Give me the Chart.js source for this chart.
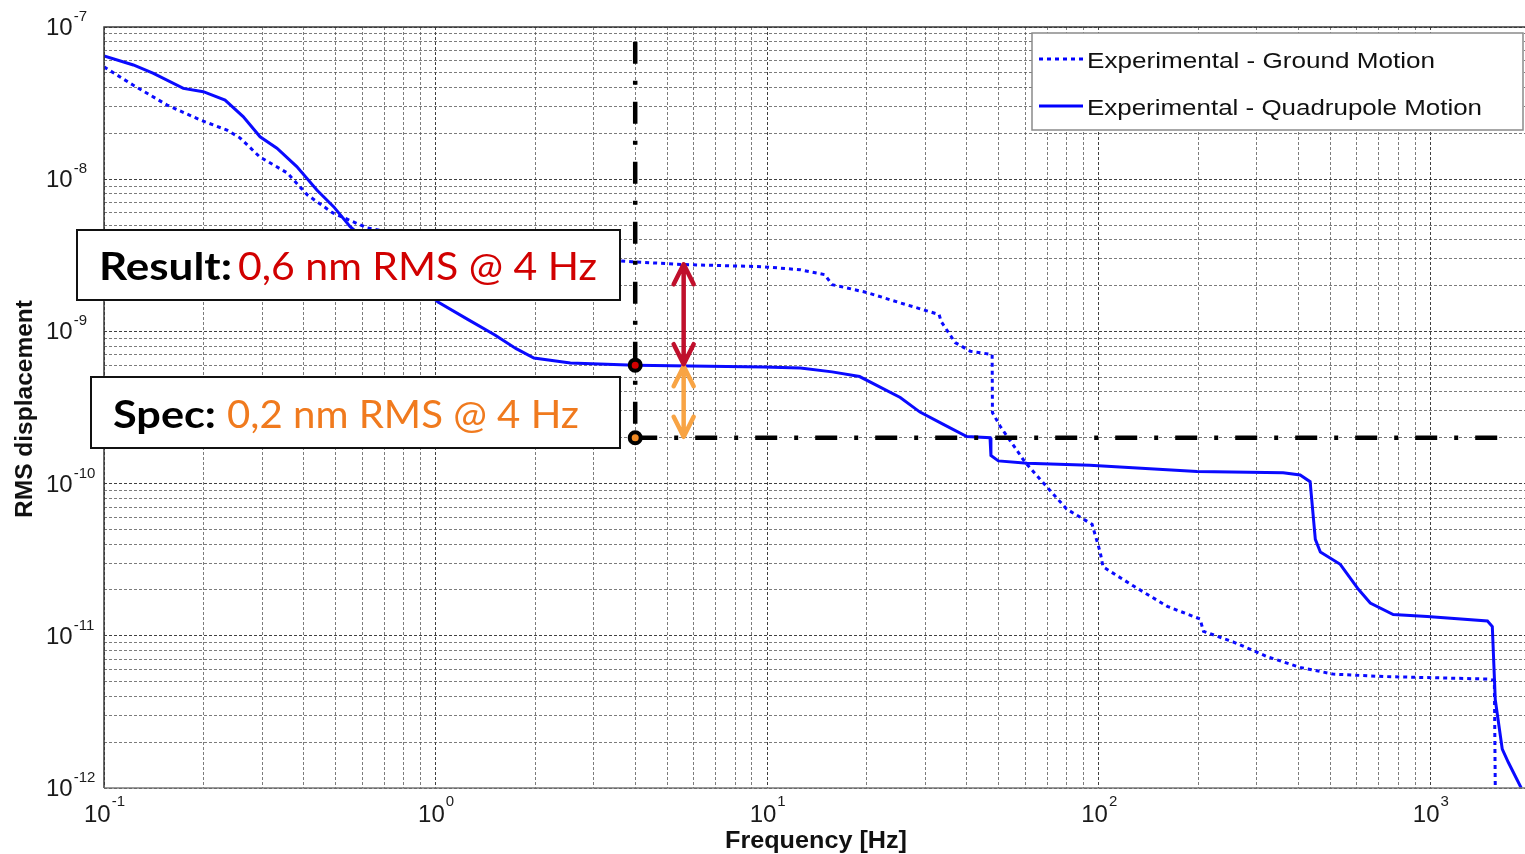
<!DOCTYPE html>
<html><head><meta charset="utf-8">
<script src="https://cdn.jsdelivr.net/npm/chart.js@4.4.1/dist/chart.umd.min.js"></script>
<style>html,body{margin:0;padding:0;background:#fff;overflow:hidden;}canvas{display:block;}</style>
</head><body><canvas id="c" width="1525" height="854" style="width:1525px;height:854px"></canvas>
<script>
// ---- data ----
const groundFreq = [0.1, 0.122, 0.155, 0.195, 0.235, 0.257, 0.295, 0.357, 0.41, 0.49, 0.62, 1.0, 2.0, 3.9, 5.58, 9.73, 12.6, 14.9, 15.7, 20, 24.7, 29.8, 33, 33.5, 36.9, 41, 47.7, 47.8, 50.5, 60, 80, 95.5, 101, 103, 127, 161, 202, 207, 255, 322, 405, 510, 721, 1487, 1560, 1570];
const groundRms = [5.47e-8, 4.17e-8, 3.07e-8, 2.45e-8, 2.1e-8, 1.87e-8, 1.4e-8, 1.1e-8, 7.9e-9, 6.0e-9, 4.8e-9, 3.9e-9, 3.2e-9, 2.87e-9, 2.75e-9, 2.66e-9, 2.54e-9, 2.36e-9, 2.03e-9, 1.8e-9, 1.56e-9, 1.38e-9, 1.29e-9, 1.16e-9, 8.45e-10, 7.4e-10, 7.05e-10, 2.93e-10, 2.37e-10, 1.38e-10, 6.8e-11, 5.4e-11, 3.55e-11, 2.84e-11, 2.13e-11, 1.56e-11, 1.29e-11, 1.07e-11, 9.1e-12, 7.3e-12, 6.2e-12, 5.6e-12, 5.4e-12, 5.2e-12, 5.1e-12, 1e-12];
const quadFreq = [0.1, 0.1226, 0.141, 0.1735, 0.1993, 0.2318, 0.2628, 0.2956, 0.3323, 0.3814, 0.4385, 0.4925, 0.5526, 1.017, 1.25, 1.51, 1.75, 1.98, 2.55, 4, 9.73, 12.6, 15.7, 19, 25.2, 28.9, 34, 40, 47, 47.3, 49.8, 60.8, 94, 198, 360, 405, 434, 450, 466, 535, 607, 659, 773, 979, 1487, 1538, 1570, 1648, 1720, 1880];
const quadRms = [6.45e-8, 5.63e-8, 4.96e-8, 3.95e-8, 3.76e-8, 3.31e-8, 2.58e-8, 1.9e-8, 1.6e-8, 1.21e-8, 8.5e-9, 6.6e-9, 4.87e-9, 1.56e-9, 1.2e-9, 9.46e-10, 7.7e-10, 6.68e-10, 6.2e-10, 6e-10, 5.83e-10, 5.75e-10, 5.42e-10, 5.05e-10, 3.68e-10, 2.95e-10, 2.45e-10, 2.04e-10, 2.0e-10, 1.53e-10, 1.41e-10, 1.36e-10, 1.32e-10, 1.2e-10, 1.18e-10, 1.14e-10, 1.03e-10, 4.3e-11, 3.55e-11, 2.95e-11, 2.02e-11, 1.64e-11, 1.38e-11, 1.34e-11, 1.25e-11, 1.15e-11, 3.8e-12, 1.8e-12, 1.47e-12, 1e-12];
const seriesNames = ['Experimental - Ground Motion', 'Experimental - Quadrupole Motion'];
const xTickExponents = [-1, 0, 1, 2, 3];
const yTickExponents = [-12, -11, -10, -9, -8, -7];
const xTitle = 'Frequency [Hz]';
const yTitle = 'RMS displacement';
const specFreq = 4;
const resultValue = 6e-10;
const specValue = 2e-10;
const vLineRms = [8e-8, 2e-10];
const hLineFreq = [4, 1600];
const arrowFreq = 5.6;
const redArrow = [2.8e-9, 6e-10];
const orangeArrow = [6e-10, 2e-10];
const resultLabel = ['Result:', '0,6 nm RMS @ 4 Hz'];
const specLabel = ['Spec:', '0,2 nm RMS @ 4 Hz'];
const xMin = 0.1, xMax = 1930, yMin = 1e-12, yMax = 1e-7;

// ---- helpers ----
function gridValues(min, max) {
  const out = [];
  for (let e = Math.floor(Math.log10(min)); e <= Math.ceil(Math.log10(max)); e++) {
    for (let m = 1; m <= 9; m++) {
      const v = m * Math.pow(10, e);
      if (v >= min * 0.9999 && v <= max * 1.0001) out.push({value: v, major: m === 1});
    }
  }
  return out;
}
const pts = (xs, ys) => xs.map((x, i) => ({x, y: ys[i]}));
const gridColor = c => (c.tick && c.tick.major) ? 'rgba(30,30,30,0.85)' : 'rgba(80,80,80,0.75)';
const SANS = '"Liberation Sans", Arial, sans-serif';
const HUM = 'Lato, "Open Sans", sans-serif';

function fitText(ctx, text, left, baseline, font, width, color) {
  ctx.save();
  ctx.font = font;
  ctx.fillStyle = color;
  ctx.textAlign = 'left';
  ctx.textBaseline = 'alphabetic';
  const w = ctx.measureText(text).width;
  ctx.translate(left, baseline);
  ctx.scale(width / w, 1);
  ctx.fillText(text, 0, 0);
  ctx.restore();
}
function powLabel(ctx, exp, x, baseline, mode, expDy) {
  ctx.save();
  ctx.fillStyle = '#1a1a1a';
  ctx.textBaseline = 'alphabetic';
  ctx.textAlign = 'left';
  ctx.font = '24px ' + SANS;
  const wb = ctx.measureText('10').width;
  ctx.font = '15px ' + SANS;
  const es = String(exp);
  const we = ctx.measureText(es).width;
  const left = mode === 'center' ? x - (wb + we) / 2 : x;
  ctx.font = '24px ' + SANS;
  ctx.fillText('10', left, baseline);
  ctx.font = '15px ' + SANS;
  ctx.fillText(es, left + wb + 1, baseline - expDy);
  ctx.restore();
}
function arrow(ctx, x, y1, y2, color) {
  ctx.save();
  ctx.strokeStyle = color;
  ctx.lineWidth = 4.5;
  ctx.lineCap = 'round';
  ctx.lineJoin = 'round';
  const hw = 10, hh = 21;
  ctx.beginPath();
  ctx.moveTo(x, y1 + 2); ctx.lineTo(x, y2 - 2);
  ctx.moveTo(x - hw, y1 + hh); ctx.lineTo(x, y1 + 1); ctx.lineTo(x + hw, y1 + hh);
  ctx.moveTo(x - hw, y2 - hh); ctx.lineTo(x, y2 - 1); ctx.lineTo(x + hw, y2 - hh);
  ctx.stroke();
  ctx.restore();
}
function box(ctx, l, t, r, b, lw, stroke) {
  ctx.save();
  ctx.fillStyle = '#fff';
  ctx.fillRect(l, t, r - l, b - t);
  ctx.strokeStyle = stroke;
  ctx.lineWidth = lw;
  ctx.strokeRect(l, t, r - l, b - t);
  ctx.restore();
}

const decor = {
  id: 'decor',
  afterDatasetsDraw(chart) {
    const {ctx, scales: {x, y}} = chart;
    const ax = x.getPixelForValue(arrowFreq);
    arrow(ctx, ax, y.getPixelForValue(orangeArrow[0]), y.getPixelForValue(orangeArrow[1]), '#f8a444');
    arrow(ctx, ax, y.getPixelForValue(redArrow[0]), y.getPixelForValue(redArrow[1]), '#c0102c');
  },
  afterDraw(chart) {
    const {ctx, chartArea: a, scales: {x, y}} = chart;
    // frame
    ctx.save();
    ctx.strokeStyle = '#3a3a3a';
    ctx.lineWidth = 1.5;
    ctx.beginPath();
    ctx.moveTo(a.right + 2, a.top); ctx.lineTo(a.left, a.top); ctx.lineTo(a.left, a.bottom);
    ctx.stroke();
    ctx.strokeStyle = '#777';
    ctx.beginPath(); ctx.moveTo(a.left, a.bottom); ctx.lineTo(a.right + 2, a.bottom); ctx.stroke();
    ctx.restore();
    // tick labels
    xTickExponents.forEach(e => powLabel(ctx, e, x.getPixelForValue(Math.pow(10, e)), 822, 'center', 16));
    yTickExponents.forEach(e => powLabel(ctx, e, 46, y.getPixelForValue(Math.pow(10, e)) + 8, 'left', 14));
    // axis titles
    fitText(ctx, xTitle, 725, 848, 'bold 24px ' + SANS, 182, '#111');
    ctx.save();
    ctx.translate(32, 518);
    ctx.rotate(-Math.PI / 2);
    fitText(ctx, yTitle, 0, 0, 'bold 24px ' + SANS, 218, '#111');
    ctx.restore();
    // annotation boxes
    box(ctx, 77, 230, 620, 300, 2, '#111');
    fitText(ctx, resultLabel[0], 99, 280, 'bold 38px ' + HUM, 133, '#000');
    fitText(ctx, resultLabel[1], 238, 280, '38px ' + HUM, 359, '#d10000');
    box(ctx, 91, 377, 620, 448, 2, '#111');
    fitText(ctx, specLabel[0], 113, 428, 'bold 38px ' + HUM, 103, '#000');
    fitText(ctx, specLabel[1], 227, 428, '38px ' + HUM, 352, '#f07a1e');
    // legend
    box(ctx, 1032, 33, 1523, 130, 1.5, '#8a8a8a');
    ctx.save();
    ctx.strokeStyle = '#0000ff';
    ctx.lineWidth = 3;
    ctx.setLineDash([4, 4]);
    ctx.beginPath(); ctx.moveTo(1039, 59); ctx.lineTo(1083, 59); ctx.stroke();
    ctx.setLineDash([]);
    ctx.beginPath(); ctx.moveTo(1039, 106); ctx.lineTo(1083, 106); ctx.stroke();
    ctx.restore();
    fitText(ctx, seriesNames[0], 1087, 68, '22px ' + SANS, 348, '#111');
    fitText(ctx, seriesNames[1], 1087, 115, '22px ' + SANS, 395, '#111');
  }
};

new Chart(document.getElementById('c'), {
  type: 'scatter',
  data: {
    datasets: [
      {label: 'markers', data: [{x: specFreq, y: resultValue}, {x: specFreq, y: specValue}], showLine: false,
       pointRadius: 5.5, pointHoverRadius: 5.5, pointBorderWidth: 4, borderColor: '#000',
       pointBackgroundColor: ['#d10000', '#f08a24'], order: 0},
      {label: 'spec-h', data: pts(hLineFreq, [specValue, specValue]), showLine: true, pointRadius: 0,
       borderColor: '#000', borderWidth: 4.5, borderDash: [22, 17, 4, 17], borderCapStyle: 'butt', order: 1},
      {label: 'spec-v', data: pts([specFreq, specFreq], vLineRms), showLine: true, pointRadius: 0,
       borderColor: '#000', borderWidth: 4.5, borderDash: [22, 17, 4, 17], borderCapStyle: 'butt', order: 1},
      {label: seriesNames[1], data: pts(quadFreq, quadRms), showLine: true, pointRadius: 0,
       borderColor: '#0a0aff', borderWidth: 3, order: 2},
      {label: seriesNames[0], data: pts(groundFreq, groundRms), showLine: true, pointRadius: 0,
       borderColor: '#0a0aff', borderWidth: 3, borderDash: [4, 4], order: 3}
    ]
  },
  options: {
    responsive: false, maintainAspectRatio: false, animation: false, devicePixelRatio: 1,
    layout: {autoPadding: false, padding: {left: 104, right: 0, top: 27, bottom: 66}},
    plugins: {legend: {display: false}, tooltip: {enabled: false}},
    elements: {line: {tension: 0}},
    scales: {
      x: {type: 'logarithmic', min: xMin, max: xMax,
          afterBuildTicks: s => { s.ticks = gridValues(xMin, xMax); },
          ticks: {display: false}, grid: {color: gridColor, lineWidth: 1, drawTicks: false},
          border: {display: false, dash: [3, 2]}},
      y: {type: 'logarithmic', min: yMin, max: yMax,
          afterBuildTicks: s => { s.ticks = gridValues(yMin, yMax); },
          ticks: {display: false}, grid: {color: gridColor, lineWidth: 1, drawTicks: false},
          border: {display: false, dash: [3, 2]}}
    }
  },
  plugins: [decor]
});
</script></body></html>
